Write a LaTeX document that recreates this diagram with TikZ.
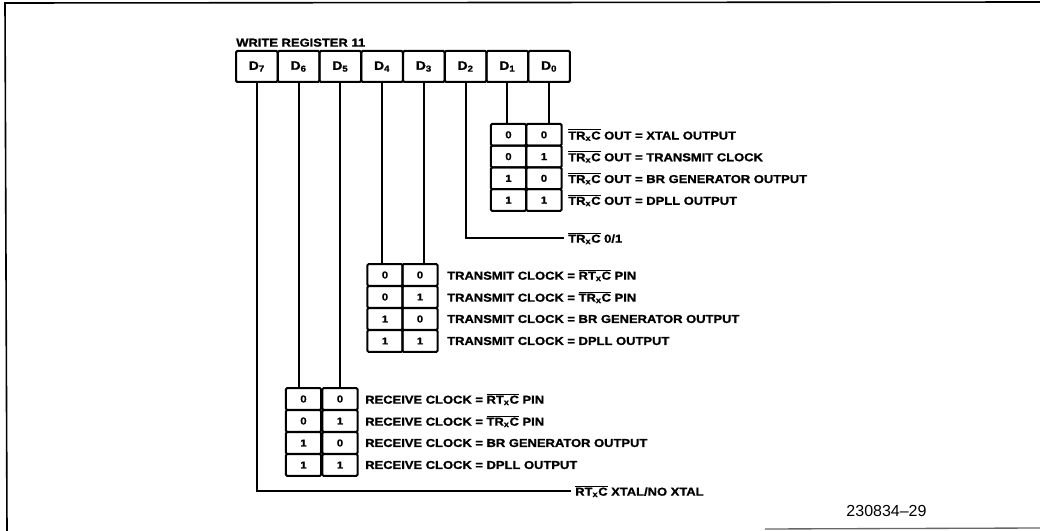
\documentclass[tikz,border=0pt]{standalone}
\usepackage{fontspec}
\setmainfont{Liberation Sans}
\newfontfamily\lblfont[FakeStretch=1.13,FakeBold=1.2]{Liberation Sans}
\newcommand\ovl[1]{$\overline{\mbox{#1}}$}
\newcommand\trxc{\ovl{TR\textsubscript{x}C}}
\newcommand\rtxc{\ovl{RT\textsubscript{x}C}}
\begin{document}
\begin{tikzpicture}[x=0.75pt,y=-0.75pt,
  lw/.style={line width=1.5pt},
  reg/.style={draw,lw,minimum width=31.3pt,minimum height=23.25pt,inner sep=0pt,rounded corners=1pt,font=\lblfont\bfseries\fontsize{9.2}{10}\selectfont},
  cell/.style={draw,lw,minimum width=26.5pt,minimum height=16.3pt,inner sep=0pt,rounded corners=1pt,font=\lblfont\bfseries\fontsize{7.5}{8}\selectfont},
  lbl/.style={anchor=west,inner sep=0pt,font=\lblfont\bfseries\fontsize{8.6}{10}\selectfont},
  wire/.style={lw}]
\useasboundingbox (0,0) rectangle (1040,531);
% frame
\draw[line width=1.2pt] (1040,2) -- (5,3) -- (7,531);
\draw[line width=1pt,black!60] (765,529) -- (1040,528);
% register
\node[lbl,anchor=south west] (title) at (236,47) {WRITE REGISTER 11};
\foreach \i/\b in {0/7,1/6,2/5,3/4,4/3,5/2,6/1,7/0}
  \node[reg] (d\b) at ({236+41.75*(\i+0.5)},66.5) {D\textsubscript{\b}};
% table 1 (D1 D0)
\foreach \r/\p/\q/\t in {1/0/0/XTAL OUTPUT,2/0/1/TRANSMIT CLOCK,3/1/0/BR GENERATOR OUTPUT,4/1/1/DPLL OUTPUT}{
  \node[cell] (a\r1) at (508.5,{113.1+21.75*\r}) {\p};
  \node[cell] (a\r2) at (544,{113.1+21.75*\r}) {\q};
  \node[lbl] (la\r) at (568,{113.1+21.75*\r}) {\trxc\ OUT = \t};
}
\draw[wire] (d1.south) -- (d1.south |- a11.north);
\draw[wire] (d0.south) -- (d0.south |- a12.north);
% D2
\node[lbl] (t01) at (568,238) {\trxc\ 0/1};
\draw[wire] (d2.south) |- ([xshift=-3pt]t01.west);
% table 2 (D4 D3)
\foreach \r/\p/\q/\t in {1/0/0/\rtxc\ PIN,2/0/1/\trxc\ PIN,3/1/0/BR GENERATOR OUTPUT,4/1/1/DPLL OUTPUT}{
  \node[cell] (b\r1) at (385,{253+22*\r}) {\p};
  \node[cell] (b\r2) at (420,{253+22*\r}) {\q};
  \node[lbl] (lb\r) at (447,{253+22*\r}) {TRANSMIT CLOCK = \t};
}
\draw[wire] (d4.south) -- (d4.south |- b11.north);
\draw[wire] (d3.south) -- (d3.south |- b12.north);
% table 3 (D6 D5)
\foreach \r/\p/\q/\t in {1/0/0/\rtxc\ PIN,2/0/1/\trxc\ PIN,3/1/0/BR GENERATOR OUTPUT,4/1/1/DPLL OUTPUT}{
  \node[cell] (c\r1) at (303.5,{377+22*\r}) {\p};
  \node[cell] (c\r2) at (340,{377+22*\r}) {\q};
  \node[lbl] (lc\r) at (365,{377+22*\r}) {RECEIVE CLOCK = \t};
}
\draw[wire] (d6.south) -- (d6.south |- c11.north);
\draw[wire] (d5.south) -- (d5.south |- c12.north);
% D7
\node[lbl] (xtal) at (575,491) {\rtxc\ XTAL/NO XTAL};
\draw[wire] (d7.south) |- ([xshift=-3pt]xtal.west);
% figure number
\node[font=\fontsize{12}{14}\selectfont] (num) at (886.5,511) {230834--29};
\end{tikzpicture}
\end{document}
